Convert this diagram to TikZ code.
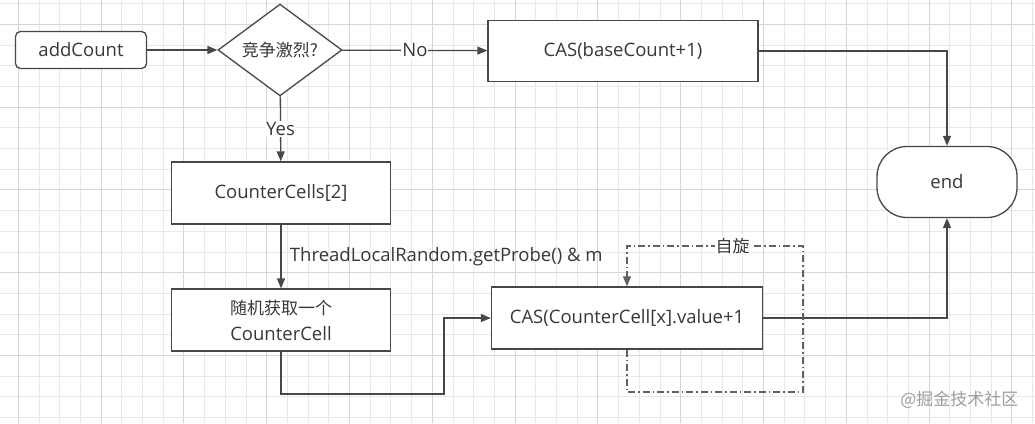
\documentclass[tikz,border=0pt]{standalone}
\usepackage{fontspec}
\setmainfont{Open Sans}
\newfontfamily\cjk{Noto Sans CJK SC}
\newcommand\zh{\cjk\fontsize{17}{24}\selectfont}
\usepackage{tikz}
\usetikzlibrary{arrows.meta, positioning, shapes.geometric}
\usepackage{xcolor}

\begin{document}
\begin{tikzpicture}[
    x=1pt, y=-1pt,
    every node/.style={font=\fontsize{18.5}{26}\selectfont, text=black!78},
    box/.style={draw=black!72, line width=1.3pt, fill=white, minimum width=219pt, minimum height=62pt, inner sep=0pt},
    startbox/.style={box, rounded corners=5pt, minimum width=131pt, minimum height=37pt},
    decide/.style={draw=black!72, line width=1.3pt, fill=white, diamond, minimum width=124pt, minimum height=73pt, inner sep=0pt},
    stop/.style={box, rounded corners=30pt, minimum width=140pt, minimum height=71pt},
    arr/.style={-{Triangle[length=10pt, width=8pt]}, draw=black!72, line width=1.3pt},
    spin/.style={arr, dash pattern=on 7pt off 3pt on 1.5pt off 3pt, draw=black!62, line width=1.1pt},
    lbl/.style={fill=white, inner sep=1pt},
    minorgrid/.style={draw=black!9, line width=0.9pt},
    majorgrid/.style={draw=black!16, line width=1.1pt}
]
% background grid
\useasboundingbox (0,0) rectangle (1035,423);
\fill[white] (0,0) rectangle (1035,423);
\foreach \i in {0,...,49} \draw[minorgrid] (18.3+20.7*\i,0) -- (18.3+20.7*\i,423);
\foreach \i in {0,...,20} \draw[minorgrid] (0,3.6+20.7*\i) -- (1035,3.6+20.7*\i);
\foreach \i in {0,...,12} \draw[majorgrid] (18.3+82.8*\i,0) -- (18.3+82.8*\i,423);
\foreach \i in {0,...,5} \draw[majorgrid] (0,24.3+82.8*\i) -- (1035,24.3+82.8*\i);

\node[startbox] (add) at (81,50) {addCount};
\node[decide] (cmp) at (280,50) {{\zh 竞争激烈?}};
\node[box, minimum width=270pt, minimum height=61pt] (base) at (623,51) {CAS(baseCount+1)};
\node[stop] (endn) at (947,182) {end};

\node[box] (cells) at (281,193) {CounterCells[2]};
\node[box, align=center] (pick) at (281,320) {{\zh 随机获取一个}\\CounterCell};
\node[box, minimum width=271pt] (cas) at (627,318) {CAS(CounterCell[x].value+1};

\coordinate (bend) at (444,394);
\coordinate (loopbr) at (803,392);
\coordinate (looptr) at (803,246);

\draw[arr] (add) -- (cmp);
\draw[arr] (cmp) -- node[lbl]{No} (base);
\draw[arr] (cmp) -- node[lbl]{Yes} (cells);
\draw[arr] (base.east) -| (endn.north);
\draw[arr] (cells) -- node[right=5pt]{ThreadLocalRandom.getProbe() \& m} (pick);
\draw[arr] (pick.south) |- (bend) |- (cas.west);
\draw[arr] (cas.east) -| (endn.south);
\draw[spin] (cas.south) |- (loopbr) -- (looptr) -| node[pos=0.2, lbl]{\zh 自旋} (cas.north);

\node[text=black!38, anchor=east] (mark) at (1022,400) {{\zh @掘金技术社区}};
\end{tikzpicture}
\end{document}
